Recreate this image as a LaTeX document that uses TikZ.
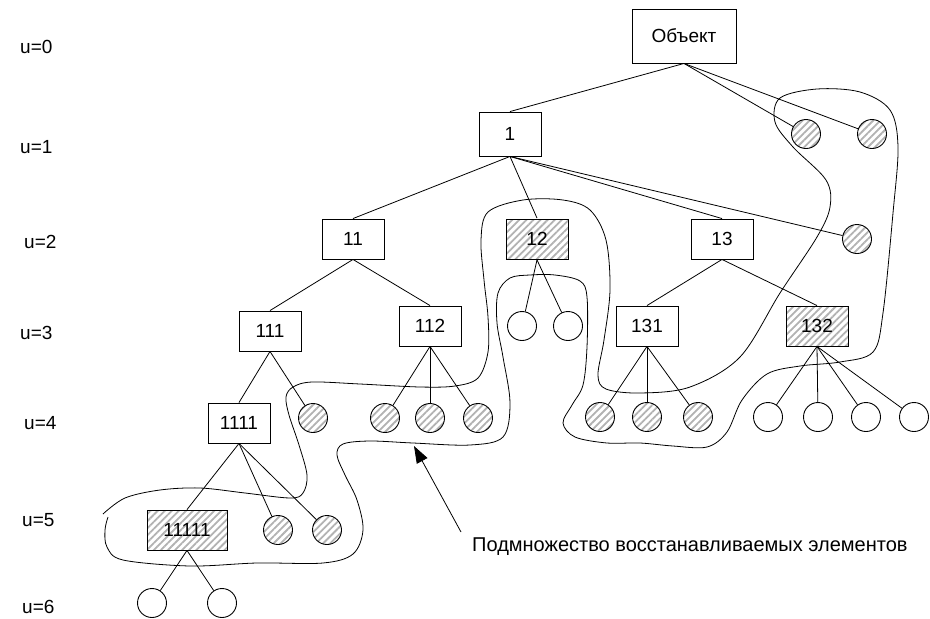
\documentclass[tikz,border=0pt]{standalone}
\usepackage{fontspec}
\setmainfont{Liberation Sans}
\usetikzlibrary{patterns.meta,arrows.meta}
\begin{document}
\begin{tikzpicture}[x=1pt, y=-1pt,
  every node/.style = {font=\fontsize{19}{22}\selectfont},
  box/.style = {shape=rectangle, draw, line width=0.9pt,
    minimum width=62pt, minimum height=40pt, inner sep=0pt},
  leaf/.style = {shape=circle, draw, line width=0.9pt,
    minimum size=29pt, inner sep=0pt},
  hatch/.style = {preaction={fill=white},
    pattern={Lines[angle=45, distance=5pt, line width=1.8pt]},
    pattern color=black!30},
  edge/.style = {line width=0.8pt}]
  \useasboundingbox (0,0) rectangle (930,619);

  \foreach \i/\x/\y in {0/20/47, 1/20/147, 2/24/242, 3/20/333,
                        4/24/423, 5/22/520, 6/22/607}
    \node[anchor=west, inner sep=0pt] (u\i) at (\x,\y) {u=\i};

  \node[box, minimum width=104pt, minimum height=54pt] (obj) at (684,36) {Объект};
  \node[box, minimum height=44pt] (n1) at (510,134) {1};
  \node[box] (n11) at (353,239) {11};
  \node[box, hatch] (n12) at (537,239) {12};
  \node[box] (n13) at (722,239) {13};
  \node[box] (n111) at (270,331) {111};
  \node[box] (n112) at (430,326) {112};
  \node[box] (n131) at (647,326) {131};
  \node[box, hatch] (n132) at (817,326) {132};
  \node[box] (n1111) at (239,423) {1111};
  \node[box, hatch, minimum width=80pt] (n11111) at (187,530) {11111};

  \node[leaf, hatch] (l01) at (806,134) {};
  \node[leaf, hatch] (l02) at (872,134) {};
  \node[leaf, hatch] (l1) at (857,239) {};
  \node[leaf] (l121) at (522,326) {};
  \node[leaf] (l122) at (568,326) {};
  \node[leaf, hatch] (l111) at (313,418) {};
  \node[leaf, hatch] (l1121) at (385,418) {};
  \node[leaf, hatch] (l1122) at (430,418) {};
  \node[leaf, hatch] (l1123) at (478,418) {};
  \node[leaf, hatch] (l1311) at (600,417) {};
  \node[leaf, hatch] (l1312) at (647,417) {};
  \node[leaf, hatch] (l1313) at (698,417) {};
  \node[leaf] (l1321) at (768,417) {};
  \node[leaf] (l1322) at (818,417) {};
  \node[leaf] (l1323) at (866,417) {};
  \node[leaf] (l1324) at (914,417) {};
  \node[leaf, hatch] (l11111) at (278,530) {};
  \node[leaf, hatch] (l11112) at (327,530) {};
  \node[leaf] (l111111) at (152,603) {};
  \node[leaf] (l111112) at (222,603) {};

  \foreach \a/\b in {obj/n1, n1/n11, n1/n12, n1/n13, n11/n111, n11/n112,
                     n13/n131, n13/n132, n111/n1111, n1111/n11111}
    \draw[edge] (\a.south) -- (\b.north);
  \foreach \a/\b in {obj/l01, obj/l02, n1/l1, n12/l121, n12/l122,
                     n111/l111, n112/l1121, n112/l1122, n112/l1123,
                     n131/l1311, n131/l1312, n131/l1313,
                     n132/l1321, n132/l1322, n132/l1323, n132/l1324,
                     n1111/l11111, n1111/l11112,
                     n11111/l111111, n11111/l111112}
    \draw[edge] (\a.south) -- (\b);

  \draw[edge] plot[smooth, tension=0.55] coordinates {
    (103,514) (125,498) (160,490) (200,488) (245,493) (290,498) (303,493)
    (307,475) (299,445) (289,415) (286,397) (293,387) (312,382) (360,384)
    (420,387) (455,386) (478,378) (488,352) (488,317) (484,280) (481,240)
    (488,212) (523,200) (563,200) (590,210) (606,240) (610,290) (604,340)
    (598,375) (606,389) (640,393) (690,387) (740,357) (780,293) (817,237)
    (830,207) (826,180) (793,147) (775,122) (780,98) (817,89) (860,92)
    (890,110) (898,147) (893,213) (883,313) (873,352) (840,362) (800,366)
    (767,374) (742,400) (727,432) (707,447) (673,446) (640,443) (607,443)
    (575,437) (563,423) (572,405) (583,385) (587,347) (587,297) (580,281)
    (555,275) (530,275) (510,278) (498,293) (497,323) (503,357) (510,403)
    (503,437) (470,445) (413,443) (370,441) (343,444) (337,455) (345,475)
    (357,500) (363,530) (353,554) (323,563) (257,563) (190,566) (123,560)
    (107,547) (105,530) (108,517)};

  \node[anchor=west, inner sep=0pt, font=\fontsize{20}{24}\selectfont] (note)
    at (472,547) {Подмножество восстанавливаемых элементов};
  \coordinate (tail) at (461,532);
  \coordinate (tip) at (414,446);
  \draw[edge, -{Triangle[length=17pt, width=12pt]}] (tail) -- (tip);
\end{tikzpicture}
\end{document}
